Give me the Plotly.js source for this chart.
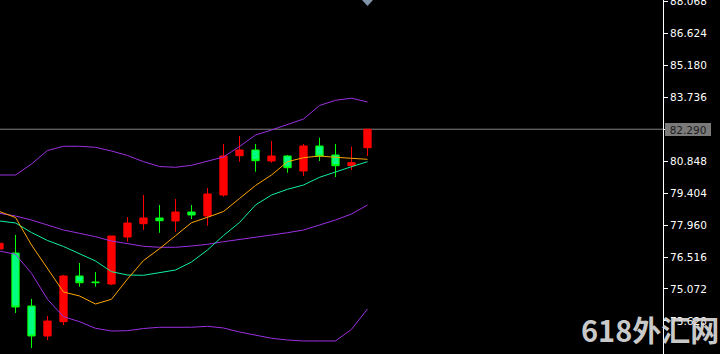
<!DOCTYPE html>
<html>
<head>
<meta charset="utf-8">
<script src="https://cdn.plot.ly/plotly-3.0.1.min.js"></script>
<style>
html,body{margin:0;padding:0;background:#000;}
#chart{width:720px;height:354px;}
</style>
</head>
<body>
<div id="chart"></div>
<script>
// ---- data ----
const barIndex = [0,1,2,3,4,5,6,7,8,9,10,11,12,13,14,15,16,17,18,19,20,21,22,23];
const openPrices  = [76.879,76.698,74.304,72.949,73.595,75.659,75.390,75.298,77.421,78.022,78.279,78.144,78.550,78.370,79.318,81.094,81.351,80.855,81.080,80.403,81.532,81.126,80.642,81.455];
const highPrices  = [77.160,77.511,74.620,73.852,75.704,76.246,75.840,77.466,78.325,79.318,78.867,79.138,78.867,79.635,81.623,81.984,81.623,81.758,81.126,81.623,81.907,81.623,81.501,82.290];
const lowPrices   = [76.860,73.988,72.406,72.768,73.445,75.176,75.176,75.253,77.209,77.737,77.615,77.660,78.234,77.932,79.242,80.823,80.371,80.778,80.326,80.177,80.855,80.132,80.448,81.080];
const closePrices = [77.136,74.259,72.949,73.626,75.659,75.356,75.360,77.466,78.054,78.279,78.157,78.550,78.415,79.364,81.080,81.351,80.868,81.080,80.552,81.532,81.080,80.642,80.778,82.290];

const bbUpper  = [80.222,80.222,80.719,81.329,81.519,81.519,81.473,81.306,81.103,80.823,80.606,80.570,80.660,80.854,81.035,81.510,82.029,82.255,82.513,82.752,83.362,83.597,83.692,83.520];
const bbMiddle = [78.492,78.370,78.189,77.963,77.737,77.588,77.435,77.240,77.105,77.001,76.956,76.956,77.014,77.091,77.209,77.317,77.435,77.511,77.615,77.737,77.963,78.189,78.460,78.867];
const bbLower  = [76.789,76.639,75.781,74.607,73.820,73.595,73.296,73.174,73.188,73.287,73.342,73.342,73.342,73.387,73.310,73.129,72.994,72.845,72.768,72.723,72.723,72.723,73.251,74.168];
const maFast   = [78.573,78.302,77.060,75.975,74.936,74.756,74.394,74.607,75.524,76.359,76.892,77.480,78.067,78.311,78.573,79.160,79.748,80.222,80.823,81.004,81.080,81.022,80.976,80.931];
const maSlow   = [78.144,78.054,77.624,77.263,76.992,76.653,76.337,75.853,75.704,75.691,75.795,75.930,76.292,76.834,77.489,78.076,78.867,79.318,79.576,79.770,80.118,80.371,80.597,80.823];

const tickValues = [88.068,86.624,85.180,83.736,82.292,80.848,79.404,77.960,76.516,75.072,73.628];
const tickLabels = ["88.068","86.624","85.180","83.736","82.292","80.848","79.404","77.960","76.516","75.072","73.628"];
const bidPrice = 82.290;
const bidLabel = "82.290";
const watermark = "618外汇网";

// ---- traces ----
const candles = {
  type: 'candlestick',
  x: barIndex, open: openPrices, high: highPrices, low: lowPrices, close: closePrices,
  increasing: {line: {color: '#ff0000', width: 1}, fillcolor: '#ff0000'},
  decreasing: {line: {color: '#00ff00', width: 1}, fillcolor: '#00ff80'},
  whiskerwidth: 0,
  hoverinfo: 'skip',
  showlegend: false
};
function lineTrace(y, color) {
  return {type: 'scatter', mode: 'lines', x: barIndex, y: y,
          line: {color: color, width: 1}, hoverinfo: 'skip', showlegend: false};
}
const data = [
  candles,
  lineTrace(bbUpper, '#9b30e0'),
  lineTrace(bbMiddle, '#9b30e0'),
  lineTrace(bbLower, '#9b30e0'),
  lineTrace(maSlow, '#10f0a0'),
  lineTrace(maFast, '#ffa500')
];

const lastIndex = barIndex[barIndex.length - 1];

const layout = {
  width: 720, height: 354,
  margin: {l: 0, r: 57, t: 0, b: 0, pad: 0},
  paper_bgcolor: '#000000',
  plot_bgcolor: '#000000',
  showlegend: false,
  boxgap: 0.35,
  xaxis: {
    range: [0.03125, 41.46875],
    visible: false,
    showgrid: false, zeroline: false,
    rangeslider: {visible: false},
    fixedrange: true
  },
  yaxis: {
    side: 'right',
    range: [72.135, 88.128],
    tickmode: 'array',
    tickvals: tickValues,
    ticktext: tickLabels,
    ticks: 'outside', ticklen: 4, tickwidth: 1, tickcolor: '#ffffff',
    showline: true, linecolor: '#ffffff', linewidth: 1,
    showgrid: false, zeroline: false,
    ticklabeloverflow: 'allow',
    tickfont: {family: 'DejaVu Sans', size: 10.5, color: '#ffffff'},
    fixedrange: true
  },
  shapes: [
    {type: 'line', xref: 'paper', x0: 0, x1: 1, yref: 'y', y0: bidPrice, y1: bidPrice,
     line: {color: '#808080', width: 1}, layer: 'below'},
    {type: 'path', xref: 'x', xsizemode: 'pixel', xanchor: lastIndex,
     yref: 'paper', ysizemode: 'pixel', yanchor: 1,
     path: 'M -5.5,0 L 5.5,0 L 0,-6 Z',
     fillcolor: '#8093a8', line: {width: 0}}
  ],
  annotations: [
    {xref: 'paper', x: 665/663, xanchor: 'left', yref: 'y', y: bidPrice, yanchor: 'middle',
     text: bidLabel, showarrow: false, bgcolor: '#7a7a7a', borderpad: 1, borderwidth: 0,
     width: 44, height: 11, align: 'center',
     font: {family: 'DejaVu Sans', size: 10.5, color: '#1a1a1a'}},
    {xref: 'paper', x: 650/663, xanchor: 'center', yref: 'paper', y: (354-329)/354, yanchor: 'middle',
     text: '<b>' + watermark + '</b>', showarrow: false,
     font: {family: 'Liberation Sans Narrow, Noto Sans CJK SC', size: 29, color: 'rgba(215,215,215,0.95)'}}
  ]
};

Plotly.newPlot('chart', data, layout, {staticPlot: true, displayModeBar: false});
</script>
</body>
</html>
